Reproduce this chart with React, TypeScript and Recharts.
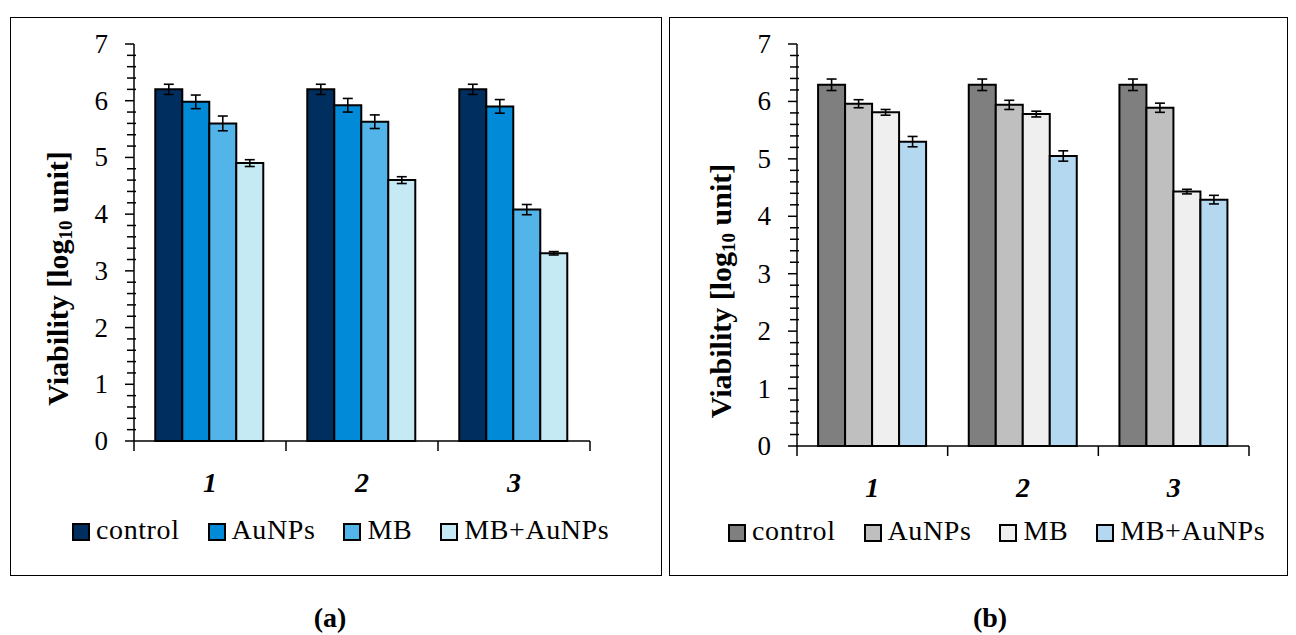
import React from 'react';
import { BarChart, Bar, XAxis, YAxis, ErrorBar, Legend, Label } from 'recharts';

const categories = ['1', '2', '3'];
const seriesNames = ['control', 'AuNPs', 'MB', 'MB+AuNPs'];
const yTicks = [0, 0.2, 0.4, 0.6, 0.8, 1, 1.2, 1.4, 1.6, 1.8, 2, 2.2, 2.4, 2.6, 2.8, 3, 3.2, 3.4, 3.6, 3.8, 4, 4.2, 4.4, 4.6, 4.8, 5, 5.2, 5.4, 5.6, 5.8, 6, 6.2, 6.4, 6.6, 6.8, 7];

// Panel (a)
const aControl = [6.2, 6.2, 6.2];
const aControlErr = [0.09, 0.09, 0.09];
const aAuNPs = [5.98, 5.92, 5.9];
const aAuNPsErr = [0.12, 0.12, 0.12];
const aMB = [5.6, 5.63, 4.08];
const aMBErr = [0.13, 0.12, 0.09];
const aMBAuNPs = [4.9, 4.6, 3.31];
const aMBAuNPsErr = [0.06, 0.06, 0.03];

// Panel (b)
const bControl = [6.29, 6.29, 6.29];
const bControlErr = [0.1, 0.1, 0.1];
const bAuNPs = [5.96, 5.94, 5.89];
const bAuNPsErr = [0.07, 0.08, 0.08];
const bMB = [5.81, 5.78, 4.43];
const bMBErr = [0.05, 0.05, 0.04];
const bMBAuNPs = [5.3, 5.05, 4.29];
const bMBAuNPsErr = [0.09, 0.09, 0.075];

const colorsA = ['#002F5F', '#008AD8', '#52B4E8', '#C6EAF4'];
const colorsB = ['#7F7F7F', '#BFBFBF', '#EFEFEF', '#B4D8F0'];

const FONT = '"Liberation Serif", "Times New Roman", serif';

const build = (c: number[], ce: number[], a: number[], ae: number[], m: number[], me: number[], x: number[], xe: number[]) =>
  categories.map((cat, i) => ({
    cat,
    s0: c[i], e0: ce[i],
    s1: a[i], e1: ae[i],
    s2: m[i], e2: me[i],
    s3: x[i], e3: xe[i],
  }));

const dataA = build(aControl, aControlErr, aAuNPs, aAuNPsErr, aMB, aMBErr, aMBAuNPs, aMBAuNPsErr);
const dataB = build(bControl, bControlErr, bAuNPs, bAuNPsErr, bMB, bMBErr, bMBAuNPs, bMBAuNPsErr);

const YTick = (props: any) => {
  const { x, y, payload } = props;
  const v = payload.value;
  const major = Math.abs(v - Math.round(v)) < 1e-6;
  return (
    <g>
      <line x1={major ? x - 9 : x - 7} x2={major ? x : x + 2} y1={y} y2={y} stroke="#000" strokeWidth={1.5} />
      {major && (
        <text x={x - 26} y={y} textAnchor="end" dominantBaseline="central" fontFamily={FONT} fontSize={27} fill="#000">
          {v}
        </text>
      )}
    </g>
  );
};

const makeXTick = (half: number) => (props: any) => {
  const { x, y, payload, index } = props;
  return (
    <g>
      <line x1={x - half} x2={x - half} y1={y} y2={y + 10} stroke="#000" strokeWidth={1.5} />
      {index === categories.length - 1 && (
        <line x1={x + half} x2={x + half} y1={y} y2={y + 10} stroke="#000" strokeWidth={1.5} />
      )}
      <text x={x} y={y + 41} textAnchor="middle" dominantBaseline="central" fontFamily={FONT} fontSize={28} fontWeight="bold" fontStyle="italic" fill="#000">
        {payload.value}
      </text>
    </g>
  );
};

const makeYLabel = (dx: number, dy: number) => (props: any) => {
  const { viewBox } = props;
  const cx = viewBox.x + viewBox.width - dx;
  const cy = viewBox.y + viewBox.height / 2 + dy;
  return (
    <text x={cx} y={cy} transform={`rotate(-90, ${cx}, ${cy})`} textAnchor="middle" dominantBaseline="central" fontFamily={FONT} fontSize={30} fontWeight="bold" fill="#000">
      Viability [log<tspan fontSize={19} dy={8}>10</tspan><tspan dy={-8}> unit]</tspan>
    </text>
  );
};

const makeLegend = (colors: string[]) => () => (
  <div style={{ display: 'flex', alignItems: 'center', height: 38, fontFamily: FONT, fontSize: 28, letterSpacing: '0.6px', whiteSpace: 'nowrap', color: '#000' }}>
    {seriesNames.map((n, i) => (
      <div key={n} style={{ display: 'flex', alignItems: 'center', marginRight: i < seriesNames.length - 1 ? 28 : 0 }}>
        <span style={{ display: 'inline-block', width: 18, height: 18, boxSizing: 'border-box', border: '2px solid #000', background: colors[i], marginRight: 6, marginTop: 3 }} />
        <span>{n}</span>
      </div>
    ))}
  </div>
);

type PanelProps = {
  data: any[];
  colors: string[];
  width: number;
  height: number;
  margin: { top: number; right: number; bottom: number; left: number };
  xAxisHeight: number;
  labelDx: number;
  labelDy: number;
  legendLeft: number;
};

const Panel = ({ data, colors, width, height, margin, xAxisHeight, labelDx, labelDy, legendLeft }: PanelProps) => {
  const plotWidth = width - margin.left - margin.right - 60;
  const half = plotWidth / categories.length / 2;
  return (
    <BarChart width={width} height={height} data={data} margin={margin} barGap={0} barCategoryGap="14%">
      <XAxis
        dataKey="cat"
        height={xAxisHeight}
        axisLine={{ stroke: '#000', strokeWidth: 1.5 }}
        tickLine={false}
        tickSize={0}
        tickMargin={0}
        tick={makeXTick(half)}
        interval={0}
      />
      <YAxis
        type="number"
        domain={[0, 7]}
        ticks={yTicks}
        interval={0}
        width={60}
        axisLine={{ stroke: '#000', strokeWidth: 1.5 }}
        tickLine={false}
        tickSize={0}
        tickMargin={0}
        tick={<YTick />}
      >
        <Label content={makeYLabel(labelDx, labelDy)} />
      </YAxis>
      <Legend
        verticalAlign="bottom"
        content={makeLegend(colors)}
        wrapperStyle={{ left: legendLeft, width: 600 }}
      />
      {[0, 1, 2, 3].map((i) => (
        <Bar key={i} dataKey={`s${i}`} name={seriesNames[i]} fill={colors[i]} stroke="#000" strokeWidth={2} isAnimationActive={false}>
          <ErrorBar dataKey={`e${i}`} width={5} stroke="#000" strokeWidth={1.6} direction="y" isAnimationActive={false} />
        </Bar>
      ))}
    </BarChart>
  );
};

export default function App() {
  return (
    <div style={{ position: 'absolute', left: 0, top: 0, width: 1296, height: 635, background: '#fff', fontFamily: FONT }}>
      <div style={{ position: 'absolute', left: 10, top: 17, width: 652, height: 559, boxSizing: 'border-box', border: '1.5px solid #000' }} />
      <div style={{ position: 'absolute', left: 669, top: 17, width: 619, height: 559, boxSizing: 'border-box', border: '1.5px solid #000' }} />
      <div style={{ position: 'absolute', left: 10, top: 17 }}>
        <Panel
          data={dataA}
          colors={colorsA}
          width={652}
          height={559}
          margin={{ top: 27, right: 72, bottom: 27, left: 64 }}
          xAxisHeight={70}
          labelDx={77}
          labelDy={36}
          legendLeft={62}
        />
      </div>
      <div style={{ position: 'absolute', left: 669, top: 17 }}>
        <Panel
          data={dataB}
          colors={colorsB}
          width={619}
          height={559}
          margin={{ top: 27, right: 39, bottom: 26, left: 68 }}
          xAxisHeight={66}
          labelDx={77}
          labelDy={46}
          legendLeft={59}
        />
      </div>
      <div style={{ position: 'absolute', left: 230, width: 200, top: 603, textAlign: 'center', fontSize: 28, fontWeight: 'bold', lineHeight: '30px' }}>(a)</div>
      <div style={{ position: 'absolute', left: 890, width: 200, top: 603, textAlign: 'center', fontSize: 28, fontWeight: 'bold', lineHeight: '30px' }}>(b)</div>
    </div>
  );
}
